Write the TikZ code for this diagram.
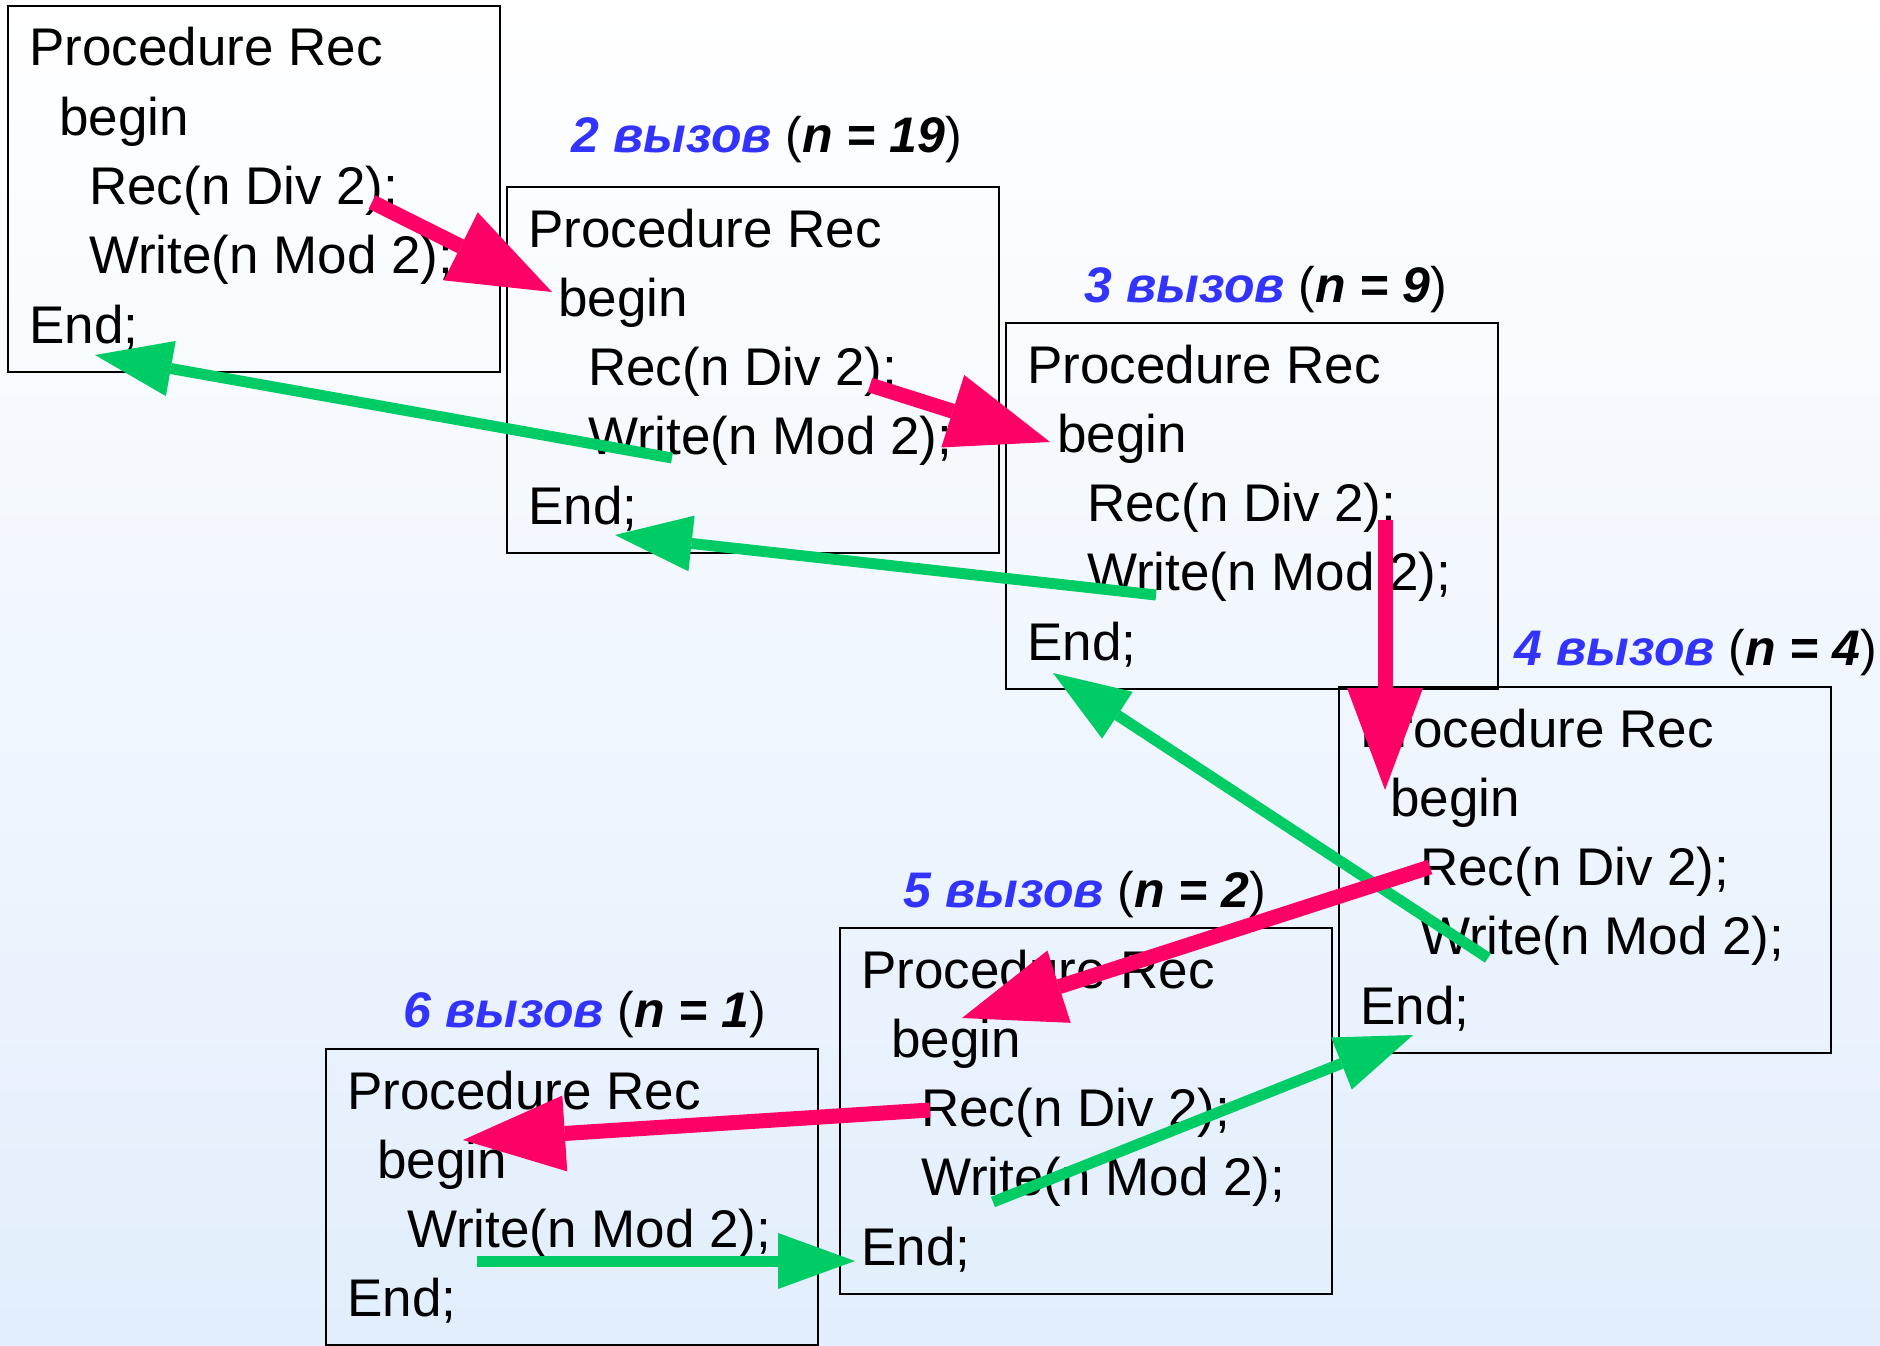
\documentclass[tikz,border=0pt]{standalone}
\usepackage{fontspec}
\setmainfont{Liberation Sans}
\usetikzlibrary{arrows.meta,calc}
\definecolor{pinkA}{RGB}{255,0,102}
\definecolor{greenA}{RGB}{0,204,102}
\definecolor{blueL}{RGB}{51,51,255}
\definecolor{bgBot}{RGB}{226,238,252}
\newcommand\codeFull{\begin{tabular}[t]{@{}l@{}}Procedure Rec\\\hspace{30pt}begin\\\hspace{60pt}Rec(n Div 2);\\\hspace{60pt}Write(n Mod 2);\\End;\end{tabular}}
\newcommand\codeLast{\begin{tabular}[t]{@{}l@{}}Procedure Rec\\\hspace{30pt}begin\\\hspace{60pt}Write(n Mod 2);\\End;\end{tabular}}
\newcommand\labText[2]{{\color{blueL}\bfseries\itshape #1 вызов} ({\bfseries\itshape n = #2})}
\begin{document}
\begin{tikzpicture}[x=1pt,y=-1pt,
  box/.style={draw, line width=1.8pt, minimum width=492pt, minimum height=366pt, inner sep=0pt, outer sep=0pt, anchor=north west},
  code/.style={anchor=base west, inner sep=0pt, font=\fontsize{53}{69.3}\selectfont},
  lab/.style={anchor=base, inner sep=0pt, font=\fontsize{50}{60}\selectfont},
  rec/.style={draw=pinkA, line width=15pt, -{Triangle[length=102pt,width=76pt,line width=0pt]}},
  ret/.style={draw=greenA, line width=11pt, -{Triangle[length=77pt,width=56pt,line width=0pt]}},
]
\shade[top color=white, bottom color=bgBot] (0,0) rectangle (1880,1346);
\useasboundingbox (0,0) rectangle (1880,1346);

% boxes
\node[box] (b1) at (8,6) {};
\node[box] (b2) at (507,187) {};
\node[box] (b3) at (1006,323) {};
\node[box] (b4) at (1339,687) {};
\node[box] (b5) at (840,928) {};
\node[box, minimum height=296pt] (b6) at (326,1049) {};

% code
\node[code] (c1) at ($(b1.north west)+(21,60)$) {\codeFull};
\node[code] (c2) at ($(b2.north west)+(21,60)$) {\codeFull};
\node[code] (c3) at ($(b3.north west)+(21,60)$) {\codeFull};
\node[code] (c4) at ($(b4.north west)+(21,60)$) {\codeFull};
\node[code] (c5) at ($(b5.north west)+(21,60)$) {\codeFull};
\node[code] (c6) at ($(b6.north west)+(21,60)$) {\codeLast};

% labels
\node[lab] (l2) at (767,152) {\labText{2}{19}};
\node[lab] (l3) at (1266,302) {\labText{3}{9}};
\node[lab] (l4) at (1696,665) {\labText{4}{4}};
\node[lab] (l5) at (1085,907) {\labText{5}{2}};
\node[lab] (l6) at (585,1027) {\labText{6}{1}};

% arrow end points
\coordinate (r1s) at ($(b1.north west)+(364,196)$);
\coordinate (r1e) at ($(b2.north west)+(45,105)$);
\coordinate (g1s) at ($(b2.north west)+(165,271)$);
\coordinate (g1e) at ($(b1.north west)+(87,349)$);
\coordinate (r2s) at ($(b2.north west)+(363,198)$);
\coordinate (r2e) at ($(b3.north west)+(44,119)$);
\coordinate (g2s) at ($(b3.north west)+(150,272)$);
\coordinate (g2e) at ($(b2.north west)+(108,348)$);
\coordinate (r3s) at ($(b3.north west)+(379,197)$);
\coordinate (r3e) at ($(b4.north west)+(46,103)$);
\coordinate (g3s) at ($(b4.north west)+(149,271)$);
\coordinate (g3e) at ($(b3.north west)+(47,350)$);
\coordinate (r4s) at ($(b4.north west)+(91,180)$);
\coordinate (r4e) at ($(b5.north west)+(122,90)$);
\coordinate (g4s) at ($(b5.north west)+(153,274)$);
\coordinate (g4e) at ($(b4.north west)+(74,348)$);
\coordinate (r5s) at ($(b5.north west)+(90,182)$);
\coordinate (r5e) at ($(b6.north west)+(137,91)$);
\coordinate (g5s) at ($(b6.north west)+(151,212)$);
\coordinate (g5e) at ($(b5.north west)+(15,333)$);

% arrows
\draw[rec] (r1s) -- (r1e);
\draw[ret] (g1s) -- (g1e);
\draw[rec] (r2s) -- (r2e);
\draw[ret] (g2s) -- (g2e);
\draw[rec] (r3s) -- (r3e);
\draw[ret] (g3s) -- (g3e);
\draw[rec] (r4s) -- (r4e);
\draw[ret] (g4s) -- (g4e);
\draw[rec] (r5s) -- (r5e);
\draw[ret] (g5s) -- (g5e);
\end{tikzpicture}
\end{document}
